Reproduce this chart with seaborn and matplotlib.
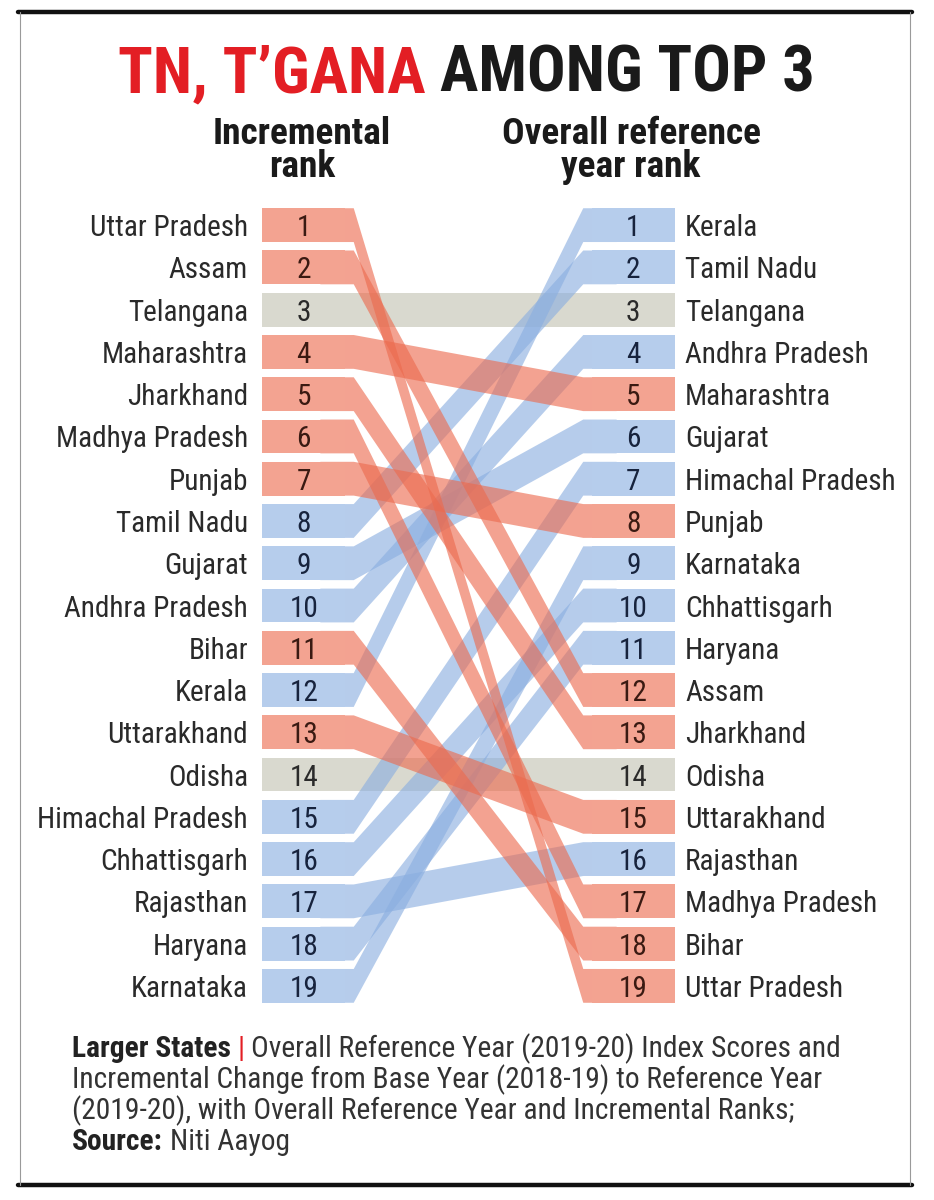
import matplotlib
matplotlib.use("Agg")
import matplotlib.pyplot as plt
import matplotlib.colors as mcolors
import seaborn as sns
from matplotlib import font_manager as fm
from matplotlib.patches import Polygon
from matplotlib.lines import Line2D

# ================= DATA =================
states = ["Uttar Pradesh", "Assam", "Telangana", "Maharashtra", "Jharkhand",
          "Madhya Pradesh", "Punjab", "Tamil Nadu", "Gujarat", "Andhra Pradesh",
          "Bihar", "Kerala", "Uttarakhand", "Odisha", "Himachal Pradesh",
          "Chhattisgarh", "Rajasthan", "Haryana", "Karnataka"]
incremental_rank = [1, 2, 3, 4, 5, 6, 7, 8, 9, 10, 11, 12, 13, 14, 15, 16, 17, 18, 19]
overall_rank = [19, 12, 3, 5, 13, 17, 8, 2, 6, 4, 18, 1, 15, 14, 7, 10, 16, 11, 9]

title_red = "TN, T\u2019GANA"
title_black = "AMONG TOP 3"
head_left = ["Incremental", "rank"]
head_right = ["Overall reference", "year rank"]
footer = [
    [("Larger States", "bold", "#222222"), ("|", "normal", "#e31e24"),
     ("Overall Reference Year (2019-20) Index Scores and", "normal", "#333333")],
    [("Incremental Change from Base Year (2018-19) to Reference Year", "normal", "#333333")],
    [("(2019-20), with Overall Reference Year and Incremental Ranks;", "normal", "#333333")],
    [("Source:", "bold", "#222222"), ("Niti Aayog", "normal", "#333333")],
]

# ================= STYLE =================
sns.set_theme(style="white")


def pick_family(names):
    for n in names:
        try:
            fm.findfont(fm.FontProperties(family=n), fallback_to_default=False)
            return n
        except ValueError:
            pass
    return "DejaVu Sans"


FAM = pick_family(["Roboto Condensed", "Liberation Sans Narrow", "DejaVu Sans"])
STRETCH = "condensed" if FAM == "DejaVu Sans" else "normal"
plt.rcParams["font.family"] = [FAM, "DejaVu Sans"]

ALPHA = 0.62
RED_BAND = "#ec6a4e"
BLUE_BAND = "#8aaee0"
GREY_BOX = "#d9d9cf"
TXT = "#2a2a2a"


def on_white(c, a=ALPHA):
    # colour of one band layer over white, used for the boxes so both match
    r, g, b = mcolors.to_rgb(c)
    return (1 - a * (1 - r), 1 - a * (1 - g), 1 - a * (1 - b))


RED_BOX = on_white(RED_BAND)
BLUE_BOX = on_white(BLUE_BAND)

W, H = 934, 1200
fig = plt.figure(figsize=(W / 100, H / 100), dpi=100)
fig.patch.set_facecolor("white")
renderer = fig.canvas.get_renderer()


def fx(x):
    return x / W


def fy(y):
    return 1 - y / H


def text_w(s, size, weight="normal"):
    t = fig.text(0, 0, s, fontsize=size, weight=weight, family=FAM, fontstretch=STRETCH)
    w = t.get_window_extent(renderer).width
    t.remove()
    return w


def fit(s, target, weight="normal"):
    return 10 * target / text_w(s, 10, weight)


def chain(parts, x, y, size, gap):
    for s, weight, color in parts:
        t = fig.text(fx(x), fy(y), s, fontsize=size, weight=weight, color=color,
                     family=FAM, fontstretch=STRETCH, ha="left", va="baseline")
        x += t.get_window_extent(renderer).width + gap
    return x


# ================= CHART AXES =================
# one box width = 83 px; left boxes 262-345 px, right boxes 590-675 px
BOX_W = 1.0
XR = 328 / 83
XEND = XR + BOX_W
BOX_H = 0.80
STUB = 0.10

ax = fig.add_axes([fx(262), fy(1007), (675 - 262) / W, (1007 - 204) / H])
ax.set_xlim(0, XEND)
ax.set_ylim(19.5, 0.5)
ax.set_axis_off()


def status_colors(a, b):
    if b > a:
        return RED_BOX, RED_BAND, "#3a1a12"
    if b < a:
        return BLUE_BOX, BLUE_BAND, "#17233d"
    return GREY_BOX, GREY_BOX, "#2a2a2a"


label_size = fit("Himachal Pradesh", 210)
num_size = label_size

# grey (unchanged) rows first, then blue then red bands on top
order = sorted(range(len(states)),
               key=lambda i: (overall_rank[i] != incremental_rank[i],
                              overall_rank[i] > incremental_rank[i]))
for i in order:
    a, b = incremental_rank[i], overall_rank[i]
    box_c, band_c, _ = status_colors(a, b)
    if a == b:
        ax.barh(a, XEND, left=0, height=BOX_H, color=GREY_BOX, linewidth=0, zorder=1)
        continue
    h = BOX_H / 2
    # band tucks under the boxes so no seam shows at the box edges
    x0, x1 = BOX_W - 0.3, XR + 0.3
    xs = [x0, BOX_W + STUB, XR - STUB, x1, x1, XR - STUB, BOX_W + STUB, x0]
    ys = [a - h, a - h, b - h, b - h, b + h, b + h, a + h, a + h]
    ax.add_patch(Polygon(list(zip(xs, ys)), closed=True, facecolor=band_c,
                         edgecolor="none", alpha=ALPHA, zorder=2))

for i, s in enumerate(states):
    a, b = incremental_rank[i], overall_rank[i]
    box_c, _, num_c = status_colors(a, b)
    ax.barh(a, BOX_W, left=0, height=BOX_H, color=box_c, linewidth=0, zorder=3)
    ax.barh(b, BOX_W, left=XR, height=BOX_H, color=box_c, linewidth=0, zorder=3)
    ax.text(BOX_W / 2, a, str(a), ha="center", va="center_baseline", zorder=4,
            fontsize=num_size, color=num_c, fontstretch=STRETCH)
    ax.text(XR + BOX_W / 2, b, str(b), ha="center", va="center_baseline", zorder=4,
            fontsize=num_size, color=num_c, fontstretch=STRETCH)
    ax.text(-14 / 83, a, s, ha="right", va="center_baseline",
            fontsize=label_size, color=TXT, fontstretch=STRETCH, clip_on=False)
    ax.text(XEND + 10 / 83, b, s, ha="left", va="center_baseline",
            fontsize=label_size, color=TXT, fontstretch=STRETCH, clip_on=False)

# ================= TITLE & HEADINGS =================
title_size = fit(title_red + " " + title_black, 694, "bold")
sp = text_w("A A", title_size, "bold") - text_w("AA", title_size, "bold")
chain([(title_red, "bold", "#e31e24"), (title_black, "bold", "#1a1a1a")],
      118, 92, title_size, sp)

head_size = fit("Overall reference", 258, "bold")
for (txt, cx) in [(head_left, 302), (head_right, 631)]:
    for j, line in enumerate(txt):
        fig.text(fx(cx), fy(144 + 33 * j), line, ha="center", va="baseline",
                 fontsize=head_size, weight="bold", color="#1a1a1a",
                 fontstretch=STRETCH)

# ================= FOOTER =================
foot_size = fit("Larger States | Overall Reference Year (2019-20) Index Scores and", 761)
fsp = text_w("a a", foot_size) - text_w("aa", foot_size)
for k, parts in enumerate(footer):
    chain(parts, 72, 1057 + 31 * k, foot_size, fsp)

# ================= FRAME =================
for y in (12, 1185):
    fig.add_artist(Line2D([fx(18), fx(912)], [fy(y), fy(y)], lw=3.2, color="#111111"))
for x in (20, 910):
    fig.add_artist(Line2D([fx(x), fx(x)], [fy(12), fy(1185)], lw=0.8, color="#9a9a9a"))

plt.savefig("out.png", dpi=100, facecolor="white")
